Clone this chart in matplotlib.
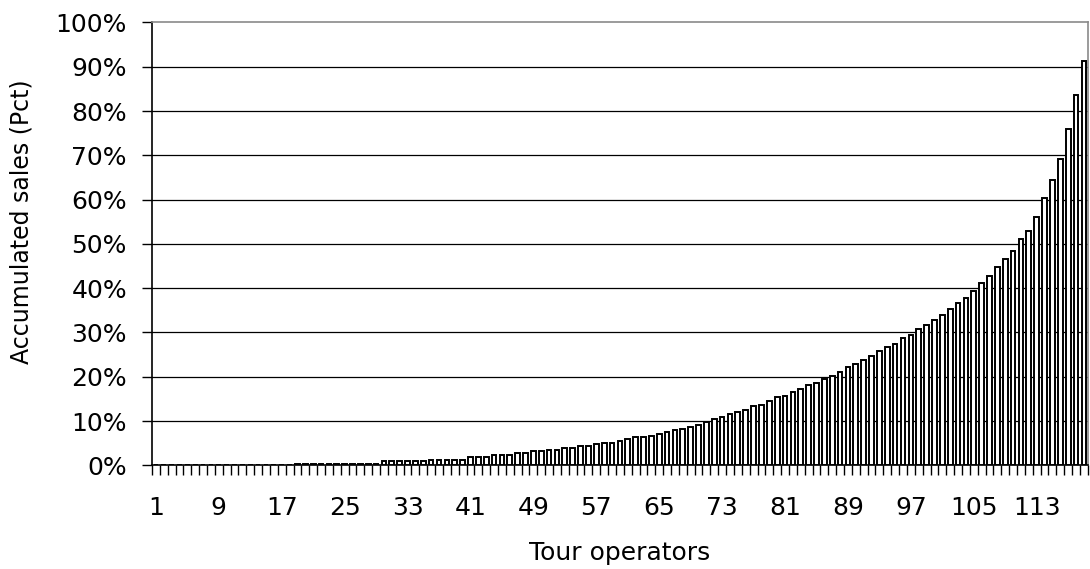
import numpy as np
import matplotlib.pyplot as plt

# accumulated sales share (%) per tour operator
operators = list(range(1, 120))
sales_pct = ([0.0] * 18 + [0.4] * 11 + [0.9] * 6 + [1.3] * 5 +
             [1.8, 1.8, 1.8, 2.3, 2.3, 2.3, 2.7, 2.7, 3.2, 3.2,
              3.5, 3.5, 3.9, 3.9, 4.4, 4.4, 4.8,
              5.1, 5.1, 5.4, 5.9, 6.3, 6.3, 6.6, 7.1, 7.5, 8.0,
              8.3, 8.7, 9.2, 9.9, 10.4, 10.9, 11.6, 12.1, 12.5, 13.3,
              13.7, 14.5, 15.4, 15.7, 16.6, 17.3, 18.2, 18.7, 19.4, 20.2,
              21.1, 22.3, 23.0, 23.8, 24.7, 25.9, 26.8, 27.5, 28.8, 29.5,
              30.7, 31.6, 32.8, 34.0, 35.2, 36.6, 37.8, 39.4, 41.1, 42.8,
              44.8, 46.5, 48.5, 51.0, 53.0, 56.1, 60.3, 64.4, 69.2, 75.9,
              83.6, 91.4])
x_labels = list(range(1, 114, 8))
y_ticks = list(range(0, 101, 10))

plt.rcParams['font.family'] = ['DejaVu Sans']
fs = 18

fig = plt.figure(figsize=(10.9, 5.69), dpi=100)
ax = fig.add_axes([0.1394, 0.1821, 0.8586, 0.7785])

ax.bar(operators, sales_pct, width=0.6, color='white', edgecolor='black',
       linewidth=1.4, zorder=3)

ax.set_xlim(0.5, len(operators) + 0.5)
ax.set_ylim(0, 100)

for v in y_ticks[1:-1]:
    ax.axhline(v, color='black', linewidth=0.9, zorder=1)

ax.set_yticks(y_ticks)
ax.set_yticklabels([f'{v}%' for v in y_ticks], fontsize=fs)
ax.tick_params(axis='y', direction='out', length=7, width=1, pad=11)

ax.set_xticks(x_labels)
ax.set_xticklabels([str(v) for v in x_labels], fontsize=fs)
ax.tick_params(axis='x', which='major', length=0, pad=22)
ax.set_xticks(np.arange(0.5, len(operators) + 1, 1), minor=True)
ax.tick_params(axis='x', which='minor', direction='out', length=7, width=1)

for s in ['left', 'bottom']:
    ax.spines[s].set_color('black')
    ax.spines[s].set_linewidth(1.2)
for s in ['top', 'right']:
    ax.spines[s].set_color('#8a8a8a')
    ax.spines[s].set_linewidth(1.2)

fig.text(620 / 1090, 1 - 553 / 569, 'Tour operators', fontsize=fs,
         ha='center', va='center')
fig.text(22 / 1090, 1 - 222 / 569, 'Accumulated sales (Pct)', fontsize=17,
         ha='center', va='center', rotation=90)

fig.savefig('out.png', dpi=100)
